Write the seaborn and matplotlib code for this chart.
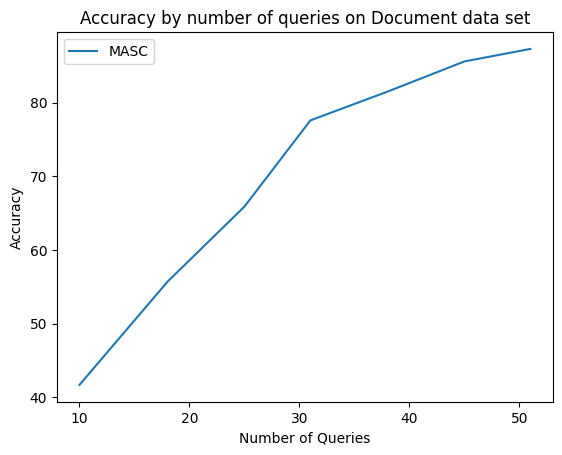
import pandas as pd
import matplotlib
matplotlib.use("Agg")
import matplotlib.pyplot as plt
import seaborn as sns

# values
queries = [10, 18, 25, 31, 38, 45, 51]
accuracy = [41.7, 55.7, 65.9, 77.6, 81.5, 85.6, 87.3]

data = pd.DataFrame({"Number of Queries": queries, "Accuracy": accuracy, "model": "MASC"})

plt.figure(figsize=(6.4, 4.8), dpi=100)
ax = sns.lineplot(data=data, x="Number of Queries", y="Accuracy", hue="model")
ax.legend(loc="upper left")
plt.title("Accuracy by number of queries on Document data set")
plt.xlabel("Number of Queries")
plt.ylabel("Accuracy")
plt.savefig("out.png", dpi=100, bbox_inches="tight")
